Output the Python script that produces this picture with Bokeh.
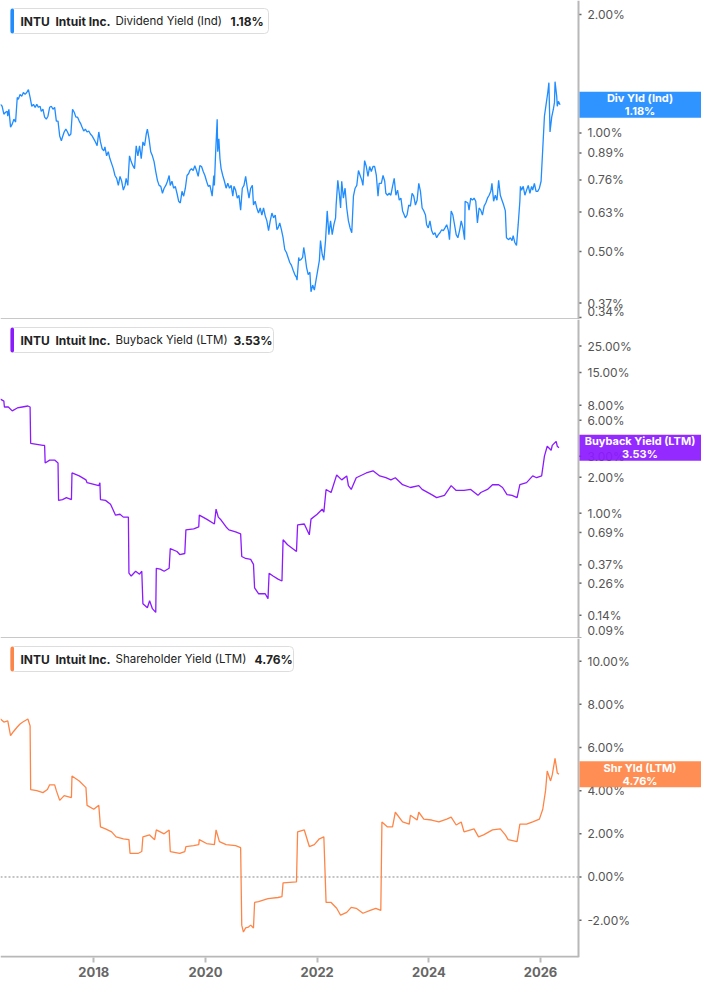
import math
from bokeh.plotting import figure
from bokeh.models import (Range1d, FixedTicker, PrintfTickFormatter, Span, Label,
                          BoxAnnotation, LinearAxis)
from bokeh.core.properties import value
from bokeh.layouts import column
from bokeh.embed import file_html
from bokeh.resources import INLINE

# Dividend Yield (Ind), %
div_years = [2016.33, 2016.36, 2016.39, 2016.42, 2016.45, 2016.46, 2016.48, 2016.51, 2016.54, 2016.57,
             2016.60, 2016.63, 2016.65, 2016.68, 2016.71, 2016.74, 2016.77, 2016.80, 2016.83, 2016.86,
             2016.89, 2016.92, 2016.95, 2016.98, 2017.01, 2017.04, 2017.06, 2017.09, 2017.12, 2017.15,
             2017.18, 2017.21, 2017.24, 2017.27, 2017.30, 2017.33, 2017.36, 2017.39, 2017.42, 2017.44,
             2017.47, 2017.50, 2017.53, 2017.56, 2017.59, 2017.62, 2017.65, 2017.68, 2017.71, 2017.74,
             2017.77, 2017.79, 2017.82, 2017.85, 2017.88, 2017.91, 2017.94, 2017.97, 2018.00, 2018.03,
             2018.06, 2018.09, 2018.12, 2018.15, 2018.18, 2018.20, 2018.23, 2018.26, 2018.29, 2018.32,
             2018.35, 2018.38, 2018.41, 2018.44, 2018.47, 2018.50, 2018.53, 2018.56, 2018.58, 2018.61,
             2018.64, 2018.67, 2018.70, 2018.73, 2018.76, 2018.79, 2018.82, 2018.85, 2018.88, 2018.91,
             2018.94, 2018.96, 2018.99, 2019.02, 2019.05, 2019.08, 2019.11, 2019.14, 2019.17, 2019.20,
             2019.23, 2019.26, 2019.29, 2019.32, 2019.35, 2019.37, 2019.40, 2019.43, 2019.46, 2019.49,
             2019.52, 2019.55, 2019.58, 2019.61, 2019.64, 2019.67, 2019.70, 2019.72, 2019.75, 2019.78,
             2019.81, 2019.84, 2019.87, 2019.90, 2019.93, 2019.96, 2019.99, 2020.02, 2020.05, 2020.08,
             2020.11, 2020.12, 2020.15, 2020.16, 2020.18, 2020.21, 2020.22, 2020.24, 2020.26, 2020.28,
             2020.31, 2020.34, 2020.37, 2020.40, 2020.43, 2020.46, 2020.49, 2020.51, 2020.54, 2020.57,
             2020.60, 2020.63, 2020.66, 2020.69, 2020.72, 2020.75, 2020.78, 2020.81, 2020.84, 2020.86,
             2020.89, 2020.92, 2020.95, 2020.98, 2021.01, 2021.04, 2021.07, 2021.10, 2021.13, 2021.16,
             2021.19, 2021.22, 2021.25, 2021.28, 2021.30, 2021.33, 2021.36, 2021.39, 2021.42, 2021.45,
             2021.48, 2021.51, 2021.54, 2021.57, 2021.60, 2021.63, 2021.64, 2021.67, 2021.68, 2021.71,
             2021.74, 2021.76, 2021.78, 2021.81, 2021.84, 2021.87, 2021.89, 2021.92, 2021.95, 2021.98,
             2022.01, 2022.04, 2022.06, 2022.09, 2022.12, 2022.15, 2022.18, 2022.21, 2022.24, 2022.27,
             2022.30, 2022.33, 2022.34, 2022.37, 2022.40, 2022.42, 2022.44, 2022.47, 2022.50, 2022.53,
             2022.56, 2022.59, 2022.62, 2022.65, 2022.68, 2022.71, 2022.74, 2022.77, 2022.80, 2022.82,
             2022.85, 2022.88, 2022.91, 2022.94, 2022.97, 2023.00, 2023.03, 2023.06, 2023.09, 2023.11,
             2023.15, 2023.18, 2023.21, 2023.23, 2023.26, 2023.29, 2023.32, 2023.35, 2023.38, 2023.41,
             2023.44, 2023.47, 2023.50, 2023.53, 2023.56, 2023.58, 2023.61, 2023.64, 2023.67, 2023.70,
             2023.73, 2023.76, 2023.79, 2023.82, 2023.85, 2023.88, 2023.91, 2023.94, 2023.96, 2023.99,
             2024.02, 2024.05, 2024.08, 2024.11, 2024.14, 2024.17, 2024.20, 2024.23, 2024.26, 2024.29,
             2024.32, 2024.35, 2024.37, 2024.40, 2024.43, 2024.46, 2024.49, 2024.52, 2024.55, 2024.58,
             2024.61, 2024.64, 2024.65, 2024.70, 2024.72, 2024.75, 2024.78, 2024.81, 2024.84, 2024.87,
             2024.90, 2024.93, 2024.96, 2024.99, 2025.02, 2025.05, 2025.08, 2025.11, 2025.13, 2025.16,
             2025.19, 2025.22, 2025.25, 2025.28, 2025.31, 2025.34, 2025.37, 2025.39, 2025.43, 2025.46,
             2025.49, 2025.51, 2025.54, 2025.57, 2025.60, 2025.63, 2025.64, 2025.66, 2025.69, 2025.72,
             2025.75, 2025.78, 2025.81, 2025.84, 2025.86, 2025.89, 2025.92, 2025.95, 2025.98, 2026.01,
             2026.04, 2026.07, 2026.10, 2026.13, 2026.15, 2026.17, 2026.20, 2026.23, 2026.25, 2026.26,
             2026.29, 2026.30, 2026.32, 2026.35]
div_vals = [1.182, 1.169, 1.116, 1.129, 1.135, 1.103, 1.149, 1.035, 1.053, 1.084,
            1.066, 1.231, 1.217, 1.253, 1.239, 1.267, 1.253, 1.267, 1.289, 1.231,
            1.169, 1.182, 1.162, 1.182, 1.162, 1.169, 1.135, 1.149, 1.097, 1.084,
            1.103, 1.162, 1.169, 1.149, 1.162, 1.072, 1.072, 0.983, 0.955, 0.977,
            1.006, 1.023, 1.006, 0.983, 0.994, 1.149, 1.129, 1.097, 1.097, 1.072,
            1.053, 1.035, 1.012, 1.023, 1.006, 1.012, 0.994, 0.983, 0.966, 0.949,
            0.928, 1.006, 0.949, 0.912, 0.901, 0.922, 0.875, 0.896, 0.860, 0.836,
            0.812, 0.780, 0.767, 0.736, 0.776, 0.754, 0.716, 0.736, 0.767, 0.736,
            0.875, 0.846, 0.826, 0.812, 0.928, 0.875, 0.928, 0.860, 0.949, 0.928,
            0.994, 1.023, 0.966, 0.896, 0.875, 0.846, 0.798, 0.758, 0.736, 0.732,
            0.703, 0.724, 0.736, 0.754, 0.780, 0.736, 0.754, 0.724, 0.732, 0.703,
            0.671, 0.664, 0.711, 0.691, 0.724, 0.780, 0.789, 0.803, 0.812, 0.803,
            0.826, 0.803, 0.776, 0.826, 0.822, 0.798, 0.780, 0.754, 0.732, 0.736,
            0.703, 0.691, 0.780, 0.736, 0.875, 1.084, 0.896, 0.966, 0.860, 0.812,
            0.780, 0.754, 0.724, 0.745, 0.724, 0.736, 0.691, 0.732, 0.716, 0.683,
            0.695, 0.637, 0.724, 0.736, 0.776, 0.724, 0.683, 0.724, 0.736, 0.656,
            0.671, 0.645, 0.626, 0.645, 0.619, 0.645, 0.616, 0.598, 0.565, 0.598,
            0.626, 0.609, 0.619, 0.568, 0.574, 0.591, 0.568, 0.542, 0.506, 0.497,
            0.483, 0.469, 0.461, 0.448, 0.437, 0.430, 0.423, 0.483, 0.475, 0.477,
            0.483, 0.512, 0.492, 0.456, 0.437, 0.443, 0.395, 0.411, 0.399, 0.423,
            0.448, 0.475, 0.533, 0.492, 0.475, 0.533, 0.634, 0.552, 0.598, 0.552,
            0.585, 0.609, 0.656, 0.758, 0.695, 0.645, 0.754, 0.683, 0.724, 0.645,
            0.598, 0.574, 0.558, 0.691, 0.724, 0.736, 0.803, 0.780, 0.758, 0.736,
            0.851, 0.822, 0.776, 0.822, 0.798, 0.822, 0.822, 0.780, 0.691, 0.745,
            0.745, 0.780, 0.754, 0.703, 0.695, 0.703, 0.695, 0.732, 0.767, 0.695,
            0.716, 0.675, 0.683, 0.634, 0.619, 0.609, 0.619, 0.656, 0.652, 0.703,
            0.691, 0.656, 0.675, 0.745, 0.711, 0.645, 0.634, 0.619, 0.585, 0.574,
            0.598, 0.565, 0.552, 0.558, 0.542, 0.552, 0.558, 0.568, 0.565, 0.574,
            0.585, 0.565, 0.536, 0.634, 0.619, 0.585, 0.552, 0.542, 0.565, 0.598,
            0.574, 0.536, 0.671, 0.664, 0.637, 0.683, 0.675, 0.683, 0.671, 0.591,
            0.645, 0.637, 0.619, 0.652, 0.664, 0.683, 0.695, 0.711, 0.745, 0.671,
            0.695, 0.675, 0.758, 0.695, 0.675, 0.656, 0.634, 0.542, 0.536, 0.542,
            0.533, 0.549, 0.527, 0.518, 0.585, 0.671, 0.732, 0.716, 0.732, 0.695,
            0.716, 0.736, 0.703, 0.732, 0.716, 0.745, 0.711, 0.711, 0.724, 0.754,
            0.912, 1.103, 1.182, 1.267, 1.342, 1.006, 1.097, 1.149, 1.196, 1.350,
            1.239, 1.169, 1.203, 1.18]

# Buyback Yield (LTM), %
bb_years = [2016.33, 2016.39, 2016.40, 2016.47, 2016.54, 2016.63, 2016.72, 2016.82, 2016.86, 2016.87,
            2017.09, 2017.12, 2017.13, 2017.21, 2017.30, 2017.36, 2017.37, 2017.44, 2017.51, 2017.60,
            2017.61, 2017.74, 2017.86, 2017.88, 2018.09, 2018.11, 2018.12, 2018.21, 2018.30, 2018.39,
            2018.47, 2018.53, 2018.62, 2018.63, 2018.67, 2018.75, 2018.82, 2018.86, 2018.88, 2018.96,
            2019.00, 2019.05, 2019.11, 2019.12, 2019.19, 2019.26, 2019.35, 2019.37, 2019.49, 2019.54,
            2019.63, 2019.65, 2019.79, 2019.88, 2019.89, 2020.02, 2020.16, 2020.19, 2020.23, 2020.28,
            2020.37, 2020.42, 2020.54, 2020.63, 2020.65, 2020.72, 2020.81, 2020.86, 2020.88, 2020.95,
            2021.07, 2021.12, 2021.14, 2021.21, 2021.30, 2021.37, 2021.39, 2021.47, 2021.63, 2021.65,
            2021.77, 2021.86, 2021.89, 2022.00, 2022.09, 2022.12, 2022.16, 2022.25, 2022.35, 2022.44,
            2022.53, 2022.56, 2022.61, 2022.70, 2022.88, 2023.00, 2023.12, 2023.23, 2023.32, 2023.40,
            2023.53, 2023.67, 2023.82, 2023.88, 2024.05, 2024.14, 2024.28, 2024.40, 2024.49, 2024.63,
            2024.75, 2024.88, 2024.93, 2025.05, 2025.14, 2025.25, 2025.32, 2025.40, 2025.49, 2025.58,
            2025.63, 2025.75, 2025.86, 2025.93, 2026.02, 2026.07, 2026.12, 2026.19, 2026.21, 2026.28,
            2026.30, 2026.33]
bb_vals = [9.0, 8.66, 7.73, 7.73, 7.17, 7.59, 7.73, 7.88, 7.73, 3.84,
           3.69, 3.69, 2.63, 2.78, 2.78, 2.63, 1.28, 1.30, 1.35, 1.30,
           2.17, 2.05, 1.90, 1.80, 1.70, 1.80, 1.30, 1.28, 1.19, 0.963,
           0.98, 0.927, 0.927, 0.315, 0.298, 0.327, 0.309, 0.327, 0.175, 0.162,
           0.185, 0.159, 0.148, 0.346, 0.340, 0.327, 0.346, 0.506, 0.478, 0.451,
           0.460, 0.725, 0.739, 0.767, 0.963, 0.892, 0.812, 1.08, 0.927, 0.876,
           0.767, 0.725, 0.698, 0.672, 0.434, 0.418, 0.411, 0.373, 0.237, 0.212,
           0.212, 0.193, 0.315, 0.298, 0.281, 0.271, 0.600, 0.545, 0.478, 0.797,
           0.812, 0.659, 0.892, 0.98, 1.08, 1.02, 1.58, 1.49, 2.09, 1.90,
           2.05, 1.70, 1.58, 1.98, 2.17, 2.26, 2.05, 1.98, 1.90, 1.98,
           1.73, 1.64, 1.70, 1.58, 1.43, 1.35, 1.41, 1.70, 1.55, 1.55,
           1.58, 1.41, 1.49, 1.58, 1.73, 1.73, 1.64, 1.43, 1.41, 1.35,
           1.73, 1.80, 2.05, 1.98, 2.05, 3.00, 3.63, 3.36, 3.69, 3.99,
           3.63, 3.53]

# Shareholder Yield (LTM), %
shr_years = [2016.33, 2016.39, 2016.46, 2016.51, 2016.56, 2016.63, 2016.68, 2016.73, 2016.82, 2016.86,
             2016.87, 2016.98, 2017.09, 2017.17, 2017.21, 2017.30, 2017.33, 2017.39, 2017.47, 2017.60,
             2017.61, 2017.74, 2017.86, 2017.88, 2018.00, 2018.09, 2018.12, 2018.21, 2018.32, 2018.40,
             2018.53, 2018.63, 2018.65, 2018.79, 2018.86, 2018.88, 2019.00, 2019.09, 2019.12, 2019.26,
             2019.35, 2019.37, 2019.54, 2019.63, 2019.65, 2019.79, 2019.88, 2019.89, 2020.02, 2020.16,
             2020.19, 2020.25, 2020.37, 2020.54, 2020.63, 2020.65, 2020.68, 2020.72, 2020.77, 2020.81,
             2020.86, 2020.88, 2020.95, 2021.12, 2021.30, 2021.37, 2021.39, 2021.63, 2021.65, 2021.77,
             2021.86, 2021.95, 2022.04, 2022.12, 2022.16, 2022.25, 2022.35, 2022.42, 2022.53, 2022.61,
             2022.70, 2022.82, 2022.95, 2023.05, 2023.14, 2023.16, 2023.26, 2023.35, 2023.40, 2023.53,
             2023.65, 2023.67, 2023.79, 2023.82, 2023.91, 2024.05, 2024.18, 2024.32, 2024.40, 2024.49,
             2024.58, 2024.63, 2024.81, 2024.89, 2024.98, 2025.14, 2025.28, 2025.37, 2025.42, 2025.58,
             2025.63, 2025.75, 2025.86, 2025.98, 2026.04, 2026.09, 2026.12, 2026.18, 2026.21, 2026.26,
             2026.30, 2026.33]
shr_vals = [7.32, 7.18, 7.23, 6.55, 6.73, 6.95, 7.09, 7.18, 7.32, 7.0,
            4.05, 4.0, 3.91, 4.05, 4.27, 4.27, 4.0, 3.55, 3.77, 3.68,
            4.68, 4.45, 4.14, 3.32, 3.14, 3.32, 2.32, 2.23, 2.09, 1.86,
            1.77, 1.73, 1.09, 1.09, 1.18, 1.86, 1.95, 1.73, 2.18, 2.0,
            2.18, 1.18, 1.09, 1.18, 1.41, 1.45, 1.5, 1.73, 1.55, 1.5,
            2.18, 1.64, 1.5, 1.45, 1.36, -2.23, -2.55, -2.36, -2.32, -2.23,
            -2.36, -1.18, -1.14, -1.0, -0.95, -0.91, -0.27, -0.23, 2.09, 2.18,
            1.41, 1.5, 1.77, 1.86, -1.18, -1.18, -1.45, -1.77, -1.64, -1.41,
            -1.45, -1.68, -1.55, -1.45, -1.55, 2.55, 2.32, 2.32, 3.0, 2.55,
            2.45, 2.86, 2.64, 3.0, 2.68, 2.64, 2.55, 2.68, 2.77, 2.41,
            2.55, 2.09, 2.23, 1.86, 1.95, 2.18, 2.23, 1.95, 1.73, 1.64,
            2.45, 2.45, 2.55, 2.68, 3.14, 4.0, 4.91, 4.45, 4.73, 5.5,
            4.82, 4.76]

div_ticks = [0.34, 0.37, 0.50, 0.63, 0.76, 0.89, 1.00, 2.00]
bb_ticks = [0.09, 0.14, 0.26, 0.37, 0.69, 1.0, 2.0, 3.0, 6.0, 8.0, 15.0, 25.0]
shr_ticks = [-2, 0, 2, 4, 6, 8, 10]
year_ticks = [2018, 2020, 2022, 2024, 2026]

# X1 is where the value axis sits; the frame runs on past it so the value
# badges can be drawn in the axis strip
X0, X1 = 2016.33, 2026.68
W, FW, FH = 701, 578, 319
XMAX = X0 + W / FW * (X1 - X0)
FONT = "Inter"
AXIS = "#b8b8b8"
x_range = Range1d(X0, XMAX)


class Panel:
    def __init__(self, log, y0, y1, ticks, bottom_axis=False):
        self.log, self.y0, self.y1 = log, y0, y1
        p = figure(width=W, height=FH + (32 if bottom_axis else 0), x_range=x_range,
                   y_range=Range1d(y0, y1), y_axis_type="log" if log else "linear",
                   y_axis_location=None, x_axis_location=None,
                   output_backend="svg", toolbar_location=None, tools="",
                   min_border_left=0, min_border_right=0, min_border_top=0,
                   min_border_bottom=32 if bottom_axis else 0)
        p.grid.visible = False
        p.outline_line_color = None
        self.p = p

        # value axis at X1: line, short ticks and labels (edge labels nudged inside)
        p.add_layout(Span(location=X1, dimension="height", line_color=AXIS, line_width=2))
        p.ray(x=[X1] * len(ticks), y=ticks, length=3, length_units="screen", angle=0,
              line_color="#666666", line_width=1.5)
        label_y = [self.yd(min(max(self.py(t), 8), FH - 8)) for t in ticks]
        p.text(x=[X1] * len(ticks), y=label_y, text=["%.2f%%" % t for t in ticks],
               x_offset=9, text_align="left", text_baseline="middle",
               text_font=value(FONT), text_font_size="12px", text_color="#555555")

        # bottom rule of the panel
        p.segment(x0=[X0], y0=[y0], x1=[X1], y1=[y0],
                  line_color=AXIS if bottom_axis else "#c8c8c8",
                  line_width=3.5 if bottom_axis else 3)
        if bottom_axis:
            xa = LinearAxis(ticker=FixedTicker(ticks=year_ticks, minor_ticks=[]),
                            formatter=PrintfTickFormatter(format="%d"))
            xa.axis_line_color = None
            xa.major_tick_out = 5
            xa.major_tick_in = 0
            xa.major_tick_line_color = "#bbbbbb"
            xa.major_tick_line_width = 2
            xa.major_label_standoff = 4
            xa.major_label_text_font = FONT
            xa.major_label_text_font_style = "bold"
            xa.major_label_text_font_size = "13px"
            xa.major_label_text_color = "#666666"
            p.add_layout(xa, "below")

    def xd(self, px):
        return X0 + px / FW * (X1 - X0)

    def yd(self, py):
        if self.log:
            a, b = math.log10(self.y1), math.log10(self.y0)
            return 10 ** (a - py / FH * (a - b))
        return self.y1 - py / FH * (self.y1 - self.y0)

    def py(self, v):
        if self.log:
            a, b = math.log10(self.y1), math.log10(self.y0)
            return (a - math.log10(v)) / (a - b) * FH
        return (self.y1 - v) / (self.y1 - self.y0) * FH

    def legend(self, color, metric, val, box_right, value_x, label):
        p, xd, yd = self.p, self.xd, self.yd
        p.add_layout(BoxAnnotation(left=xd(10), right=xd(box_right), top=yd(8), bottom=yd(33),
                                   fill_color="white", fill_alpha=1, line_color="#dddddd",
                                   line_alpha=1, line_width=1, border_radius=4))
        p.add_layout(BoxAnnotation(left=xd(10), right=xd(13.5), top=yd(8), bottom=yd(33),
                                   fill_color=color, fill_alpha=1, line_color=None,
                                   border_radius=2))
        parts = [("INTU", 20, "bold", "12px"), ("Intuit Inc.", 55, "bold", "12px"),
                 (metric, 115, "normal", "11.5px"), (val, value_x, "bold", "12px")]
        for txt, px, style, size in parts:
            p.add_layout(Label(x=X0, y=self.y1, x_offset=px, y_offset=-20.5, text=txt,
                               text_baseline="middle", text_align="left", text_font=FONT,
                               text_font_size=size, text_font_style=style,
                               text_color="#222222"))
        # value badge in the axis strip
        last = float(val.rstrip("%"))
        cy = self.py(last)
        p.add_layout(BoxAnnotation(left=xd(FW + 1), right=XMAX, top=yd(cy - 13),
                                   bottom=yd(cy + 13), fill_color=color, fill_alpha=0.93,
                                   line_color=None))
        for txt, dy in [(label, 6.5), (val, -6.5)]:
            p.add_layout(Label(x=(X1 + XMAX) / 2, y=last, y_offset=dy, text=txt,
                               text_align="center", text_baseline="middle", text_font=FONT,
                               text_font_size="11px", text_font_style="bold",
                               text_color="white"))


# panel 1: dividend yield
d = Panel(True, 0.336, 2.17, div_ticks)
d.p.line(div_years, div_vals, line_color="#1f8cff", line_width=1.3)
d.legend("#1f8cff", "Dividend Yield (Ind)", "1.18%", 268, 230, "Div Yld (Ind)")

# panel 2: buyback yield
b = Panel(True, 0.0895, 41.7, bb_ticks)
b.p.line(bb_years, bb_vals, line_color="#8c1aff", line_width=1.3)
b.legend("#8c1aff", "Buyback Yield (LTM)", "3.53%", 273, 233, "Buyback Yield (LTM)")

# panel 3: shareholder yield
s = Panel(False, -3.73, 11.05, shr_ticks, bottom_axis=True)
s.p.segment(x0=[X0], y0=[0], x1=[X1], y1=[0], line_color="#888888", line_width=1,
            line_dash="2 2")
s.p.line(shr_years, shr_vals, line_color="#ff8547", line_width=1.3)
s.legend("#ff8547", "Shareholder Yield (LTM)", "4.76%", 293, 254, "Shr Yld (LTM)")

layout = column(d.p, b.p, s.p)
open("out.html", "w").write(file_html(layout, INLINE))
